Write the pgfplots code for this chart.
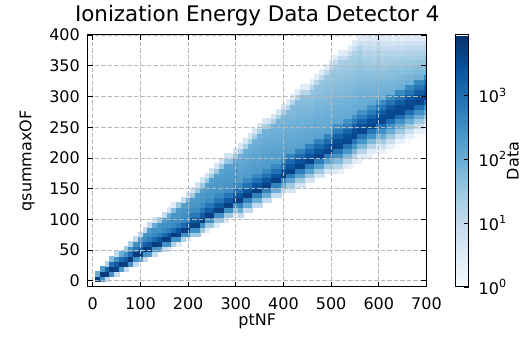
\documentclass[border=0pt]{standalone}
\usepackage{fontspec}
\setmainfont{DejaVu Sans}
\usepackage{pgfplots}
\pgfplotsset{compat=1.18}
\newcommand\fs{\fontsize{16}{19}\selectfont}
\newcommand\ft{\fontsize{21.4}{25}\selectfont}
\begin{document}
\begin{tikzpicture}
\useasboundingbox (0,0) rectangle (527pt,344pt);
\begin{axis}[
  at={(88pt,57pt)}, anchor=south west,
  scale only axis, width=338.5pt, height=252pt,
  xmin=-10, xmax=700, ymin=-10, ymax=400,
  xtick={0,100,...,700}, ytick={0,50,...,400},
  axis on top, clip marker paths=true,
  grid=major,
  major grid style={black!28, line width=0.8pt, dash pattern=on 4.5pt off 2pt},
  axis line style={line width=1pt},
  major tick length=5pt, tick style={black, line width=0.8pt},
  tick align=inside,
  tick label style={font=\fs},
  /pgf/number format/assume math mode=true,
  xticklabel style={inner sep=0pt, anchor=north, yshift=-10pt},
  yticklabel style={inner sep=0pt, anchor=east, xshift=-8pt},
  title={Ionization Energy Data Detector 4},
  title style={font=\ft, at={(axis description cs:0.5,1)}, anchor=south, inner sep=0pt, yshift=3pt},
  xlabel={ptNF},
  xlabel style={font=\fs, at={(axis description cs:0.5,0)}, anchor=north, inner sep=0pt, yshift=-27pt},
  ylabel={qsummaxOF},
  ylabel style={font=\fs, at={(axis description cs:-0.1566,0.5)}, anchor=south, inner sep=0pt},
  colormap={blues}{rgb255=(247,251,255) rgb255=(222,235,247) rgb255=(198,219,239) rgb255=(158,202,225) rgb255=(107,174,214) rgb255=(66,146,198) rgb255=(33,113,181) rgb255=(8,81,156) rgb255=(8,48,107)},
  point meta min=0, point meta max=3.94,
  colorbar,
  colorbar style={
    at={(parent axis.north east)}, anchor=north west, xshift=20.5pt,
    scale only axis, width=13pt, height=252pt,
    axis line style={line width=1pt},
    ytick={0,1,2,3},
    yticklabels={10\textsuperscript{0},10\textsuperscript{1},10\textsuperscript{2},10\textsuperscript{3}},
    yticklabel pos=right, ytick pos=right, tick align=inside,
    major tick length=5pt, tick style={black, line width=0.8pt},
    yticklabel style={font=\fs, inner sep=0pt, anchor=west, xshift=10pt},
    ylabel={Data},
    ylabel style={font=\fs, at={(axis description cs:3.95,0.5)}, anchor=north, inner sep=0pt},
  },
]
\addplot[scatter, only marks, mark=square*, mark size=2.384pt,
  scatter/use mapped color={draw=mapped color, fill=mapped color},
  mark options={yscale=1.031, line width=0.3pt},
  point meta=explicit]
  table[x=x, y=y, meta expr={log10(\thisrow{c})}, row sep=\\] {
x y c\\
10 4 6000\\ 10 12 100\\
20 4 300\\ 20 12 6000\\ 20 20 200\\
30 4 10\\ 30 12 6000\\ 30 20 1500\\ 30 28 20\\
40 12 300\\ 40 20 6000\\ 40 28 1000\\ 40 36 50\\
50 12 10\\ 50 20 5000\\ 50 28 2000\\ 50 36 300\\ 50 44 10\\
60 20 200\\ 60 28 6000\\ 60 36 1000\\ 60 44 100\\
70 20 10\\ 70 28 5000\\ 70 36 2000\\ 70 44 300\\ 70 52 30\\
80 28 300\\ 80 36 6000\\ 80 44 1000\\ 80 52 300\\ 80 60 20\\
90 28 10\\ 90 36 300\\ 90 44 6000\\ 90 52 800\\ 90 60 300\\ 90 68 10\\
100 36 200\\ 100 44 6000\\ 100 52 1500\\ 100 60 400\\ 100 68 200\\ 100 76 10\\
110 36 10\\ 110 44 300\\ 110 52 6000\\ 110 60 1500\\ 110 68 400\\ 110 76 250\\ 110 84 10\\
120 44 200\\ 120 52 5000\\ 120 60 2500\\ 120 68 600\\ 120 76 300\\ 120 84 200\\ 120 92 10\\
130 44 10\\ 130 52 300\\ 130 60 6000\\ 130 68 1200\\ 130 76 400\\ 130 84 300\\ 130 92 100\\ 130 100 5\\
140 52 200\\ 140 60 5000\\ 140 68 2500\\ 140 76 600\\ 140 84 300\\ 140 92 250\\ 140 100 30\\
150 52 10\\ 150 60 300\\ 150 68 6000\\ 150 76 1200\\ 150 84 400\\ 150 92 300\\ 150 100 200\\ 150 108 10\\
160 52 3\\ 160 60 300\\ 160 68 5000\\ 160 76 2500\\ 160 84 600\\ 160 92 300\\ 160 100 250\\ 160 108 100\\ 160 116 5\\
170 60 20\\ 170 68 300\\ 170 76 6000\\ 170 84 1200\\ 170 92 400\\ 170 100 300\\ 170 108 250\\ 170 116 50\\ 170 124 3\\
180 60 3\\ 180 68 300\\ 180 76 5000\\ 180 84 2500\\ 180 92 600\\ 180 100 300\\ 180 108 250\\ 180 116 200\\ 180 124 30\\
190 68 20\\ 190 76 300\\ 190 84 5000\\ 190 92 1200\\ 190 100 400\\ 190 108 300\\ 190 116 250\\ 190 124 150\\ 190 132 10\\
200 68 3\\ 200 76 300\\ 200 84 5000\\ 200 92 2000\\ 200 100 600\\ 200 108 300\\ 200 116 250\\ 200 124 200\\ 200 132 80\\ 200 140 5\\
210 76 30\\ 210 84 300\\ 210 92 5000\\ 210 100 2000\\ 210 108 700\\ 210 116 350\\ 210 124 250\\ 210 132 200\\ 210 140 30\\ 210 148 5\\
220 76 30\\ 220 84 300\\ 220 92 5000\\ 220 100 2000\\ 220 108 700\\ 220 116 350\\ 220 124 250\\ 220 132 220\\ 220 140 180\\ 220 148 30\\ 220 156 5\\
230 84 30\\ 230 92 300\\ 230 100 5000\\ 230 108 2000\\ 230 116 700\\ 230 124 350\\ 230 132 250\\ 230 140 220\\ 230 148 170\\ 230 156 30\\ 230 164 5\\
240 84 3\\ 240 92 30\\ 240 100 300\\ 240 108 5000\\ 240 116 2000\\ 240 124 700\\ 240 132 350\\ 240 140 250\\ 240 148 220\\ 240 156 170\\ 240 164 30\\ 240 172 5\\
250 92 30\\ 250 100 300\\ 250 108 5000\\ 250 116 2000\\ 250 124 700\\ 250 132 350\\ 250 140 250\\ 250 148 230\\ 250 156 200\\ 250 164 160\\ 250 172 30\\ 250 180 5\\
260 92 3\\ 260 100 30\\ 260 108 300\\ 260 116 5000\\ 260 124 2000\\ 260 132 700\\ 260 140 350\\ 260 148 250\\ 260 156 230\\ 260 164 200\\ 260 172 160\\ 260 180 30\\ 260 188 5\\
270 100 30\\ 270 108 300\\ 270 116 5000\\ 270 124 2000\\ 270 132 700\\ 270 140 350\\ 270 148 250\\ 270 156 230\\ 270 164 200\\ 270 172 180\\ 270 180 150\\ 270 188 30\\ 270 196 5\\
280 100 3\\ 280 108 30\\ 280 116 300\\ 280 124 5000\\ 280 132 2000\\ 280 140 700\\ 280 148 350\\ 280 156 250\\ 280 164 230\\ 280 172 200\\ 280 180 180\\ 280 188 150\\ 280 196 30\\ 280 204 5\\
290 108 30\\ 290 116 300\\ 290 124 5000\\ 290 132 2000\\ 290 140 700\\ 290 148 350\\ 290 156 250\\ 290 164 230\\ 290 172 200\\ 290 180 180\\ 290 188 150\\ 290 196 40\\ 290 204 5\\
300 108 3\\ 300 116 30\\ 300 124 300\\ 300 132 5000\\ 300 140 2000\\ 300 148 700\\ 300 156 350\\ 300 164 250\\ 300 172 220\\ 300 180 200\\ 300 188 170\\ 300 196 140\\ 300 204 30\\ 300 212 5\\
310 108 10\\ 310 116 100\\ 310 124 500\\ 310 132 5000\\ 310 140 2500\\ 310 148 900\\ 310 156 400\\ 310 164 200\\ 310 172 180\\ 310 180 150\\ 310 188 130\\ 310 196 110\\ 310 204 90\\ 310 212 20\\ 310 220 4\\
320 116 10\\ 320 124 100\\ 320 132 500\\ 320 140 5000\\ 320 148 2500\\ 320 156 900\\ 320 164 400\\ 320 172 200\\ 320 180 180\\ 320 188 150\\ 320 196 130\\ 320 204 110\\ 320 212 90\\ 320 220 20\\ 320 228 4\\
330 116 10\\ 330 124 100\\ 330 132 500\\ 330 140 5000\\ 330 148 2500\\ 330 156 900\\ 330 164 400\\ 330 172 200\\ 330 180 180\\ 330 188 160\\ 330 196 140\\ 330 204 120\\ 330 212 100\\ 330 220 85\\ 330 228 20\\ 330 236 4\\
340 124 10\\ 340 132 100\\ 340 140 500\\ 340 148 5000\\ 340 156 2500\\ 340 164 900\\ 340 172 400\\ 340 180 200\\ 340 188 180\\ 340 196 160\\ 340 204 140\\ 340 212 120\\ 340 220 100\\ 340 228 85\\ 340 236 20\\ 340 244 4\\
350 124 10\\ 350 132 100\\ 350 140 500\\ 350 148 5000\\ 350 156 2500\\ 350 164 900\\ 350 172 400\\ 350 180 200\\ 350 188 180\\ 350 196 160\\ 350 204 140\\ 350 212 120\\ 350 220 105\\ 350 228 90\\ 350 236 80\\ 350 244 20\\ 350 252 4\\
360 132 10\\ 360 140 100\\ 360 148 500\\ 360 156 5000\\ 360 164 2500\\ 360 172 900\\ 360 180 400\\ 360 188 200\\ 360 196 180\\ 360 204 160\\ 360 212 140\\ 360 220 120\\ 360 228 105\\ 360 236 90\\ 360 244 80\\ 360 252 20\\ 360 260 4\\
370 132 10\\ 370 140 100\\ 370 148 500\\ 370 156 5000\\ 370 164 2500\\ 370 172 900\\ 370 180 400\\ 370 188 200\\ 370 196 180\\ 370 204 160\\ 370 212 140\\ 370 220 120\\ 370 228 105\\ 370 236 90\\ 370 244 80\\ 370 252 30\\ 370 260 6\\
380 140 10\\ 380 148 100\\ 380 156 500\\ 380 164 5000\\ 380 172 2500\\ 380 180 900\\ 380 188 400\\ 380 196 190\\ 380 204 170\\ 380 212 150\\ 380 220 130\\ 380 228 115\\ 380 236 100\\ 380 244 90\\ 380 252 80\\ 380 260 20\\ 380 268 4\\
390 140 10\\ 390 148 100\\ 390 156 500\\ 390 164 5000\\ 390 172 2500\\ 390 180 900\\ 390 188 400\\ 390 196 190\\ 390 204 170\\ 390 212 150\\ 390 220 130\\ 390 228 115\\ 390 236 100\\ 390 244 90\\ 390 252 80\\ 390 260 70\\ 390 268 20\\ 390 276 4\\
400 148 10\\ 400 156 100\\ 400 164 500\\ 400 172 5000\\ 400 180 2500\\ 400 188 900\\ 400 196 400\\ 400 204 180\\ 400 212 160\\ 400 220 140\\ 400 228 120\\ 400 236 105\\ 400 244 95\\ 400 252 85\\ 400 260 75\\ 400 268 65\\ 400 276 20\\ 400 284 4\\
410 148 5\\ 410 156 30\\ 410 164 150\\ 410 172 600\\ 410 180 4500\\ 410 188 2500\\ 410 196 1200\\ 410 204 500\\ 410 212 160\\ 410 220 140\\ 410 228 125\\ 410 236 110\\ 410 244 95\\ 410 252 85\\ 410 260 75\\ 410 268 65\\ 410 276 55\\ 410 284 15\\ 410 292 3\\
420 148 5\\ 420 156 30\\ 420 164 150\\ 420 172 600\\ 420 180 4500\\ 420 188 2500\\ 420 196 1200\\ 420 204 500\\ 420 212 160\\ 420 220 140\\ 420 228 125\\ 420 236 110\\ 420 244 95\\ 420 252 85\\ 420 260 75\\ 420 268 65\\ 420 276 58\\ 420 284 50\\ 420 292 15\\ 420 300 3\\
430 156 5\\ 430 164 30\\ 430 172 150\\ 430 180 600\\ 430 188 4500\\ 430 196 2500\\ 430 204 1200\\ 430 212 500\\ 430 220 150\\ 430 228 135\\ 430 236 120\\ 430 244 105\\ 430 252 95\\ 430 260 85\\ 430 268 75\\ 430 276 65\\ 430 284 58\\ 430 292 50\\ 430 300 15\\ 430 308 3\\
440 156 5\\ 440 164 30\\ 440 172 150\\ 440 180 600\\ 440 188 4500\\ 440 196 2500\\ 440 204 1200\\ 440 212 500\\ 440 220 150\\ 440 228 135\\ 440 236 120\\ 440 244 105\\ 440 252 95\\ 440 260 85\\ 440 268 75\\ 440 276 65\\ 440 284 58\\ 440 292 52\\ 440 300 45\\ 440 308 15\\ 440 316 3\\
450 164 5\\ 450 172 30\\ 450 180 150\\ 450 188 600\\ 450 196 4500\\ 450 204 2500\\ 450 212 1200\\ 450 220 500\\ 450 228 145\\ 450 236 130\\ 450 244 115\\ 450 252 100\\ 450 260 90\\ 450 268 80\\ 450 276 70\\ 450 284 60\\ 450 292 52\\ 450 300 45\\ 450 308 15\\ 450 316 3\\
460 164 5\\ 460 172 30\\ 460 180 150\\ 460 188 600\\ 460 196 4500\\ 460 204 2500\\ 460 212 1200\\ 460 220 500\\ 460 228 145\\ 460 236 130\\ 460 244 115\\ 460 252 100\\ 460 260 90\\ 460 268 80\\ 460 276 70\\ 460 284 60\\ 460 292 52\\ 460 300 45\\ 460 308 40\\ 460 316 15\\ 460 324 3\\
470 172 5\\ 470 180 30\\ 470 188 150\\ 470 196 600\\ 470 204 4500\\ 470 212 2500\\ 470 220 1200\\ 470 228 500\\ 470 236 140\\ 470 244 125\\ 470 252 110\\ 470 260 100\\ 470 268 90\\ 470 276 80\\ 470 284 70\\ 470 292 60\\ 470 300 52\\ 470 308 45\\ 470 316 40\\ 470 324 15\\ 470 332 3\\
480 172 5\\ 480 180 30\\ 480 188 150\\ 480 196 600\\ 480 204 4500\\ 480 212 2500\\ 480 220 1200\\ 480 228 500\\ 480 236 140\\ 480 244 125\\ 480 252 110\\ 480 260 100\\ 480 268 90\\ 480 276 80\\ 480 284 70\\ 480 292 60\\ 480 300 52\\ 480 308 45\\ 480 316 40\\ 480 324 35\\ 480 332 12\\ 480 340 3\\
490 180 5\\ 490 188 30\\ 490 196 150\\ 490 204 600\\ 490 212 4500\\ 490 220 2500\\ 490 228 1200\\ 490 236 500\\ 490 244 135\\ 490 252 120\\ 490 260 105\\ 490 268 95\\ 490 276 85\\ 490 284 75\\ 490 292 65\\ 490 300 57\\ 490 308 50\\ 490 316 44\\ 490 324 38\\ 490 332 33\\ 490 340 12\\ 490 348 3\\
500 180 5\\ 500 188 30\\ 500 196 150\\ 500 204 600\\ 500 212 4500\\ 500 220 2500\\ 500 228 1200\\ 500 236 500\\ 500 244 135\\ 500 252 120\\ 500 260 105\\ 500 268 95\\ 500 276 85\\ 500 284 75\\ 500 292 65\\ 500 300 57\\ 500 308 50\\ 500 316 44\\ 500 324 38\\ 500 332 33\\ 500 340 28\\ 500 348 10\\ 500 356 3\\
510 180 3\\ 510 188 15\\ 510 196 60\\ 510 204 250\\ 510 212 800\\ 510 220 4000\\ 510 228 3000\\ 510 236 1500\\ 510 244 600\\ 510 252 300\\ 510 260 120\\ 510 268 105\\ 510 276 95\\ 510 284 85\\ 510 292 75\\ 510 300 65\\ 510 308 57\\ 510 316 50\\ 510 324 44\\ 510 332 38\\ 510 340 33\\ 510 348 28\\ 510 356 10\\ 510 364 3\\
520 180 2\\ 520 188 15\\ 520 196 60\\ 520 204 250\\ 520 212 800\\ 520 220 4000\\ 520 228 3000\\ 520 236 1500\\ 520 244 600\\ 520 252 300\\ 520 260 120\\ 520 268 105\\ 520 276 95\\ 520 284 85\\ 520 292 75\\ 520 300 65\\ 520 308 57\\ 520 316 50\\ 520 324 44\\ 520 332 38\\ 520 340 33\\ 520 348 28\\ 520 356 24\\ 520 364 10\\ 520 372 3\\
530 188 3\\ 530 196 15\\ 530 204 60\\ 530 212 250\\ 530 220 800\\ 530 228 4000\\ 530 236 3000\\ 530 244 1500\\ 530 252 600\\ 530 260 300\\ 530 268 115\\ 530 276 100\\ 530 284 90\\ 530 292 80\\ 530 300 70\\ 530 308 62\\ 530 316 55\\ 530 324 48\\ 530 332 42\\ 530 340 36\\ 530 348 30\\ 530 356 25\\ 530 364 10\\ 530 372 3\\
540 188 2\\ 540 196 15\\ 540 204 60\\ 540 212 250\\ 540 220 800\\ 540 228 4000\\ 540 236 3000\\ 540 244 1500\\ 540 252 600\\ 540 260 300\\ 540 268 115\\ 540 276 100\\ 540 284 90\\ 540 292 80\\ 540 300 70\\ 540 308 62\\ 540 316 55\\ 540 324 48\\ 540 332 42\\ 540 340 36\\ 540 348 30\\ 540 356 25\\ 540 364 20\\ 540 372 8\\ 540 380 3\\
550 196 3\\ 550 204 15\\ 550 212 60\\ 550 220 250\\ 550 228 800\\ 550 236 4000\\ 550 244 3000\\ 550 252 1500\\ 550 260 600\\ 550 268 300\\ 550 276 110\\ 550 284 100\\ 550 292 88\\ 550 300 78\\ 550 308 68\\ 550 316 60\\ 550 324 52\\ 550 332 45\\ 550 340 40\\ 550 348 34\\ 550 356 28\\ 550 364 22\\ 550 372 18\\ 550 380 8\\ 550 388 3\\
560 196 2\\ 560 204 3\\ 560 212 15\\ 560 220 60\\ 560 228 250\\ 560 236 800\\ 560 244 4000\\ 560 252 3000\\ 560 260 1500\\ 560 268 600\\ 560 276 300\\ 560 284 110\\ 560 292 100\\ 560 300 88\\ 560 308 78\\ 560 316 68\\ 560 324 60\\ 560 332 52\\ 560 340 45\\ 560 348 40\\ 560 356 34\\ 560 364 28\\ 560 372 22\\ 560 380 18\\ 560 388 8\\ 560 396 3\\
570 204 3\\ 570 212 15\\ 570 220 60\\ 570 228 250\\ 570 236 800\\ 570 244 4000\\ 570 252 3000\\ 570 260 1500\\ 570 268 600\\ 570 276 300\\ 570 284 110\\ 570 292 100\\ 570 300 88\\ 570 308 78\\ 570 316 68\\ 570 324 58\\ 570 332 50\\ 570 340 42\\ 570 348 35\\ 570 356 28\\ 570 364 20\\ 570 372 15\\ 570 380 10\\ 570 388 6\\ 570 396 3\\
580 204 2\\ 580 212 3\\ 580 220 15\\ 580 228 60\\ 580 236 250\\ 580 244 800\\ 580 252 4000\\ 580 260 3000\\ 580 268 1500\\ 580 276 600\\ 580 284 300\\ 580 292 105\\ 580 300 92\\ 580 308 80\\ 580 316 70\\ 580 324 60\\ 580 332 50\\ 580 340 42\\ 580 348 35\\ 580 356 28\\ 580 364 22\\ 580 372 16\\ 580 380 12\\ 580 388 8\\ 580 396 4\\
590 212 3\\ 590 220 15\\ 590 228 60\\ 590 236 250\\ 590 244 800\\ 590 252 4000\\ 590 260 3000\\ 590 268 1500\\ 590 276 600\\ 590 284 300\\ 590 292 110\\ 590 300 95\\ 590 308 82\\ 590 316 70\\ 590 324 60\\ 590 332 50\\ 590 340 40\\ 590 348 32\\ 590 356 25\\ 590 364 20\\ 590 372 15\\ 590 380 10\\ 590 388 6\\ 590 396 3\\
600 212 2\\ 600 220 3\\ 600 228 15\\ 600 236 60\\ 600 244 250\\ 600 252 800\\ 600 260 4000\\ 600 268 3000\\ 600 276 1500\\ 600 284 600\\ 600 292 300\\ 600 300 100\\ 600 308 88\\ 600 316 76\\ 600 324 65\\ 600 332 55\\ 600 340 46\\ 600 348 38\\ 600 356 30\\ 600 364 24\\ 600 372 18\\ 600 380 12\\ 600 388 8\\ 600 396 4\\
610 212 2\\ 610 220 8\\ 610 228 30\\ 610 236 100\\ 610 244 300\\ 610 252 1000\\ 610 260 4000\\ 610 268 3500\\ 610 276 2000\\ 610 284 800\\ 610 292 400\\ 610 300 100\\ 610 308 85\\ 610 316 72\\ 610 324 60\\ 610 332 50\\ 610 340 40\\ 610 348 32\\ 610 356 25\\ 610 364 19\\ 610 372 14\\ 610 380 10\\ 610 388 6\\ 610 396 3\\
620 212 1\\ 620 220 2\\ 620 228 8\\ 620 236 30\\ 620 244 100\\ 620 252 300\\ 620 260 1000\\ 620 268 4000\\ 620 276 3500\\ 620 284 2000\\ 620 292 800\\ 620 300 400\\ 620 308 95\\ 620 316 80\\ 620 324 66\\ 620 332 55\\ 620 340 45\\ 620 348 36\\ 620 356 28\\ 620 364 21\\ 620 372 15\\ 620 380 10\\ 620 388 6\\ 620 396 3\\
630 220 2\\ 630 228 8\\ 630 236 30\\ 630 244 100\\ 630 252 300\\ 630 260 1000\\ 630 268 4000\\ 630 276 3500\\ 630 284 2000\\ 630 292 800\\ 630 300 400\\ 630 308 95\\ 630 316 80\\ 630 324 66\\ 630 332 55\\ 630 340 45\\ 630 348 36\\ 630 356 28\\ 630 364 21\\ 630 372 15\\ 630 380 10\\ 630 388 5\\ 630 396 2\\
640 220 1\\ 640 228 2\\ 640 236 8\\ 640 244 30\\ 640 252 100\\ 640 260 300\\ 640 268 1000\\ 640 276 4000\\ 640 284 3500\\ 640 292 2000\\ 640 300 800\\ 640 308 400\\ 640 316 90\\ 640 324 75\\ 640 332 60\\ 640 340 48\\ 640 348 38\\ 640 356 30\\ 640 364 22\\ 640 372 15\\ 640 380 10\\ 640 388 6\\ 640 396 3\\
650 228 2\\ 650 236 8\\ 650 244 30\\ 650 252 100\\ 650 260 300\\ 650 268 1000\\ 650 276 4000\\ 650 284 3500\\ 650 292 2000\\ 650 300 800\\ 650 308 400\\ 650 316 90\\ 650 324 75\\ 650 332 60\\ 650 340 48\\ 650 348 38\\ 650 356 30\\ 650 364 22\\ 650 372 15\\ 650 380 10\\ 650 388 5\\ 650 396 2\\
660 228 1\\ 660 236 2\\ 660 244 8\\ 660 252 30\\ 660 260 100\\ 660 268 300\\ 660 276 1000\\ 660 284 4000\\ 660 292 3500\\ 660 300 2000\\ 660 308 800\\ 660 316 400\\ 660 324 85\\ 660 332 70\\ 660 340 55\\ 660 348 42\\ 660 356 32\\ 660 364 24\\ 660 372 17\\ 660 380 12\\ 660 388 7\\ 660 396 3\\
670 236 2\\ 670 244 8\\ 670 252 30\\ 670 260 100\\ 670 268 300\\ 670 276 1000\\ 670 284 4000\\ 670 292 3500\\ 670 300 2000\\ 670 308 800\\ 670 316 400\\ 670 324 85\\ 670 332 70\\ 670 340 55\\ 670 348 42\\ 670 356 32\\ 670 364 24\\ 670 372 17\\ 670 380 12\\ 670 388 7\\ 670 396 3\\
680 236 1\\ 680 244 2\\ 680 252 8\\ 680 260 30\\ 680 268 100\\ 680 276 300\\ 680 284 1000\\ 680 292 4000\\ 680 300 3500\\ 680 308 2000\\ 680 316 800\\ 680 324 400\\ 680 332 80\\ 680 340 62\\ 680 348 48\\ 680 356 36\\ 680 364 26\\ 680 372 18\\ 680 380 12\\ 680 388 7\\ 680 396 3\\
690 236 1\\ 690 244 2\\ 690 252 8\\ 690 260 30\\ 690 268 100\\ 690 276 300\\ 690 284 1000\\ 690 292 4000\\ 690 300 3500\\ 690 308 2000\\ 690 316 800\\ 690 324 400\\ 690 332 80\\ 690 340 62\\ 690 348 48\\ 690 356 36\\ 690 364 26\\ 690 372 18\\ 690 380 12\\ 690 388 7\\ 690 396 3\\
700 236 1\\ 700 244 2\\ 700 252 2\\ 700 260 8\\ 700 268 30\\ 700 276 100\\ 700 284 300\\ 700 292 1000\\ 700 300 4000\\ 700 308 3500\\ 700 316 2000\\ 700 324 800\\ 700 332 400\\ 700 340 75\\ 700 348 58\\ 700 356 44\\ 700 364 32\\ 700 372 22\\ 700 380 14\\ 700 388 8\\ 700 396 3\\
};
\end{axis}
\end{tikzpicture}
\end{document}
